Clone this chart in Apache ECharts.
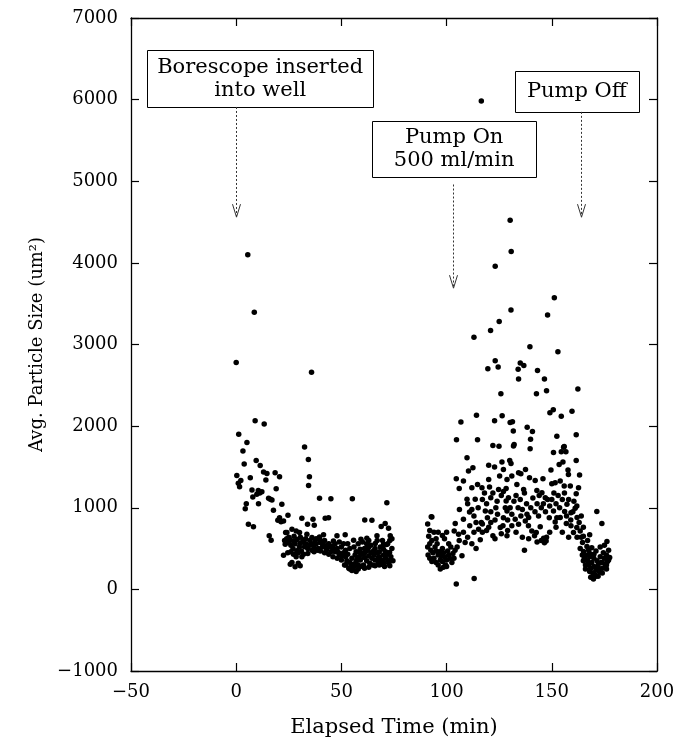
<!DOCTYPE html>
<html>
<head>
<meta charset="utf-8">
<script src="https://cdn.jsdelivr.net/npm/echarts@6/dist/echarts.min.js"></script>
<style>
html,body{margin:0;padding:0;background:#fff;}
#chart{width:678px;height:743px;}
</style>
</head>
<body>
<div id="chart"></div>
<script>
// ---- Data (elapsed time in min, avg particle size in um^2) ----
const borescopePhase = [
[0,2780],[5.5,4100],[8.6,3395],[35.8,2660],
[9,2067],[13.3,2027],[1.2,1900],[5.1,1800],[32.5,1745],
[3.2,1695],[9.5,1579],[11.4,1518],[3.8,1535],[34.3,1591],[34.8,1380],[34.4,1274],
[0.3,1396],[2.2,1335],[1.6,1258],[1.0,1300],[6.7,1368],[13,1437],[14.6,1420],[14.1,1339],[18.5,1428],[20.6,1380],[19,1233],
[7.5,1217],[9.8,1164],[12.2,1196],[11.2,1180],[10.5,1210],[7.9,1132],[10.6,1050],[15.4,1115],[17,1095],[16.2,1105],[17.7,968],[21.7,1042],[4.8,1050],[4.3,989],
[39.6,1115],[45,1111],[55.2,1111],[71.6,1062],
[5.8,797],[8.2,766],[19.8,846],[20.6,879],[21.3,830],[24.6,907],[22.5,839],[31.2,871],[36.5,858],[33.9,797],[37.1,785],[42.3,871],[43.9,879],[61.1,851],[64.5,846],[68.9,769],[70.8,806],[72.4,749],
[15.7,656],[16.6,602],[24.1,696],[26.5,736],[28.5,716],[30.1,696],[23.5,696],
[23.3,553],[24.9,574],[27.2,594],[30.4,562],[32.5,521],[22.5,419],[27.2,431],[28.8,472],[31.2,399],[25.7,309],[28,277],[30.4,289],[26.5,330],[29.5,320],
[33.6,675],[36,635],[37.5,602],[39.6,643],[41.5,668],[39.9,574],[42.3,533],[43.9,553],[46.2,594],[47.9,656],[51.8,668],[46.2,480],[48.6,452],[50.2,411],[52.6,350],[54.2,269],[55.8,309],[57.4,370],[55.8,602],[59.3,614],[62.1,626],[66.9,656],[58.9,492],[61.3,452],[62.9,513],[65.3,472],[66.1,562],[67.6,391],[70,492],[69.3,309],[72.4,350],[72.9,452],[73.2,656],
[24,620],[25.5,610],[26,540],[27,500],[28,560],[29,610],[30,520],[31,470],[32,600],[33,560],[34,500],[35,540],[36,480],[37,520],[38,560],[39,500],[40,470],[41,520],[42,450],[43,490],[44,430],[45,520],[46,400],[47,460],[48,380],[49,420],[50,360],[51,450],[51.5,300],[52,400],[53,430],[53.5,260],[54,330],[55,380],[55,230],[56,280],[56.5,420],[57,340],[58,300],[58.5,400],[59,360],[60,440],[60.5,300],[61,390],[62,350],[62.5,480],[63,410],[63.5,320],[64,450],[64.5,380],[65,300],[65.5,420],[66,360],[67,450],[67.5,330],[68,400],[68.5,520],[69,360],[69.5,600],[70,420],[70.5,280],[71,380],[71.5,550],[72,430],[72.5,320],[73,600],[73.5,400],[74,500],[74.5,350],
[23,600],[24.5,450],[25,640],[26,460],[27.5,650],[28.5,400],[29.5,450],[30.5,640],[31.5,580],[32,430],[33,620],[34,440],[35,600],[36,560],[37,460],[38,620],[38.5,480],[40,600],[41,560],[42,600],[43,520],[44,560],[45,460],[46,530],[47,560],[48,500],[49,580],[50,520],[51,560],[52,480],[53,560],[54,500],[56,520],[57,460],[58,560],[59,450],[60,580],[61,500],[62,560],[63,600],[64,540],[66,500],[67,600],[68,460],[70,550],[71,460],[72,560],[74,620],
[52,300],[54,250],[55.5,260],[57,220],[58,250],[59,280],[61,260],[63,270],[66,290],[68,300],[70,330],[73,290]
];

const pumpOnPhase = [
[92.7,891],[91,800],[92,720],[91.5,650],[93,600],[92,560],[91,520],[92.5,480],[93.5,450],[91.2,420],[92,380],[93,340],[94,700],[95,620],[95.5,560],[94.5,520],[95,470],[96,420],[94,380],[95,330],[96,300],[97,360],[97.5,410],[96.5,460],[98,500],[98.5,450],[99,400],[98,340],[99.5,300],[100,360],[101,420],[100.5,470],[102,520],[101.5,380],[100,280],[97,250],[98.5,270],[103,440],[103.5,380],[102.5,330],[104,480],[101,560],[99,620],[98,660],[96,700],[100,700],
[103.6,716],[105.7,675],[104.1,806],[108,858],[106.1,980],[110.9,949],[108.8,574],[107.3,411],[104.6,65],[113.1,134],[116,607],[115.2,736],[116.5,818],[119.4,879],[122,656],[125.5,757],[128.7,656],[118.4,961],[121,1123],[123.4,1001],[124.2,919],[127,879],[127.9,1001],[128.3,1083],[129.4,1123],[128.7,961],[130.2,1001],[126.8,778],[132.6,858],[134.2,797],[135.3,900],[137.4,839],[138.9,778],[138.2,919],[137,480],[140.5,716],[141.8,656],[142.6,696],[144.5,766],[143.7,900],[146.1,626],[147.3,594],[145,600],[146.5,570],[147.5,640],[148.8,879],[150.8,961],[152.4,879],[151.6,826],[153.7,1001],[156.1,953],[157.2,1042],[159.1,940],[161.1,993],[161.9,1022],[156.9,806],[159.1,778],[160.3,696],[161.9,757],[163.5,716],
[106.8,2051],[114.2,2133],[126.4,2128],[122.8,2067],[130.2,2043],[131.3,2055],[131.7,1941],[138.3,1987],[140.8,1933],[152.4,1877],[161.6,1893],[104.7,1832],[114.7,1832],[122,1762],[124.9,1754],[131.8,1758],[139.9,1840],[155.9,1750],[132.1,1774],[139.7,1722],[109.7,1612],[150.8,1677],[154.5,1685],[156.7,1685],[155.6,1742],[161.6,1579],
[104.6,1355],[108,1327],[112.5,1490],[110.4,1449],[120,1522],[122.8,1498],[126.3,1559],[130,1579],[130.6,1542],[127,1469],[134.2,1428],[137.5,1469],[135.3,1416],[139.4,1368],[145.8,1355],[142.1,1335],[149.6,1461],[153.5,1530],[155.3,1559],[157.7,1461],[157.9,1408],[163.2,1400],
[106,1237],[112,1245],[114.7,1286],[116.8,1245],[120,1347],[120.4,1254],[125.2,1388],[124.7,1225],[128.7,1347],[128.3,1237],[131,1388],[133.4,1286],[136.6,1225],[142.9,1212],[145.3,1184],[146.9,1123],[150,1294],[151.6,1306],[154,1327],[155.9,1266],[158.8,1266],[162.7,1245],[161.6,1172],[109.7,1103],[113.6,1103],
[130.7,4139],[123.1,3960],[151.2,3574],[130.6,3423],[148,3362],[125,3281],[120.9,3171],[113,3089],[139.6,2971],[152.9,2910],[123.1,2800],[119.6,2702],[124.5,2723],[135,2772],[136.7,2744],[134,2698],[143.2,2682],[134.2,2576],[146.5,2576],[125.8,2397],[142.7,2397],[147.5,2434],[162.4,2454],[149.1,2165],[150.7,2202],[159.6,2182],[154.5,2121],
[116.5,5983],[130.2,4521],[93,888],
[110,1050],[112,980],[113,900],[114,820],[115,1000],[117,1100],[118,1180],[119,1050],[121,950],[122,1180],[123,850],[124,1080],[126,1150],[127,1200],[129,850],[131,920],[132,1080],[133,1150],[134,1000],[135,1100],[136,980],[137,1180],[138,1050],[139,880],[140,1000],[141,1120],[142,950],[143,1050],[144,1150],[145,1000],[146,1050],[147,950],[148,1100],[149,1020],[150,1100],[151,1180],[152,1050],[153,1150],[154,880],[155,1100],[156,1180],[157,900],[158,1100],[159,850],[160,950],[160.5,1080],[162,880],[163,820],
[111,780],[113,700],[117,700],[120,760],[123,620],[126,680],[129,720],[131,780],[133,700],[136,640],[139,620],[143,580],[149,700],[152,760],[155,700],[158,640],[162,640],
[105,520],[106,600],[108,700],[110,640],[112,560],[114,500],[117,800],[119,720],[121,820]
];

const pumpOffPhase = [
[164,900],[165,760],[165,650],[167,600],[168,668],[164.6,574],[165.1,464],[166.7,525],[166,420],[165.5,380],[167,350],[167.5,300],[168,400],[168.5,260],[169,330],[169.5,200],[169.8,126],[170,280],[170.5,180],[171,240],[171.5,350],[172,300],[172.5,220],[173,400],[173.5,330],[174,260],[174.5,450],[175,380],[175.5,300],[176,420],[176.5,340],[177,480],[177.5,390],[176,250],[174,200],[172,160],[168,220],[166,300],[170,430],[171,470],[173,520],[175,540],[167.5,480],[169,510],[171.4,953],[173.8,806],[176.2,586],[164,640],[163.5,500],[164.5,420],[165,350],[166,250],[168.5,150],[170,380],[172,260],[174,330],[176,300],[177,360],[168,440],[170,200],[171,160]
];

const xTickValues = [-50, 0, 50, 100, 150, 200];
const yTickValues = [-1000, 0, 1000, 2000, 3000, 4000, 5000, 6000, 7000];

const annotations = [
  { lines: ['Borescope inserted', 'into well'], box: [-42.3, 6606, 65.1, 5910], arrow: [0, 5910, 4560] },
  { lines: ['Pump On', '500 ml/min'], box: [64.6, 5740, 142.6, 5055], arrow: [103.1, 4960, 3690] },
  { lines: ['Pump Off'], box: [132.4, 6350, 191.4, 5850], arrow: [164, 5850, 4560] }
];

const FONT = 'DejaVu Serif';
const chart = echarts.init(document.getElementById('chart'), null, { renderer: 'canvas' });

const axisCommon = {
  type: 'value',
  axisLine: { show: true, onZero: false, lineStyle: { color: '#000', width: 1.3 } },
  axisTick: { show: true, inside: true, length: 8, lineStyle: { color: '#000', width: 1.2 } },
  splitLine: { show: false }
};
const fmt = v => String(v).replace('-', '\u2212');

const scatterStyle = { color: '#000', opacity: 1 };
const option = {
  animation: false,
  backgroundColor: '#fff',
  grid: { left: 131, top: 18, right: 21, bottom: 70, containLabel: false },
  xAxis: [
    Object.assign({}, axisCommon, {
      position: 'bottom', min: xTickValues[0], max: xTickValues[xTickValues.length - 1], interval: 50,
      axisLabel: { margin: 12, fontFamily: FONT, fontSize: 18, color: '#000', formatter: fmt },
      name: 'Elapsed Time (min)', nameLocation: 'middle', nameGap: 46,
      nameTextStyle: { fontFamily: FONT, fontSize: 21, color: '#000' }
    }),
    Object.assign({}, axisCommon, {
      position: 'top', min: xTickValues[0], max: xTickValues[xTickValues.length - 1], interval: 50,
      axisLabel: { show: false }
    })
  ],
  yAxis: [
    Object.assign({}, axisCommon, {
      position: 'left', min: yTickValues[0], max: yTickValues[yTickValues.length - 1], interval: 1000,
      axisLabel: { margin: 13, fontFamily: FONT, fontSize: 18, color: '#000', formatter: fmt },
      name: 'Avg. Particle Size (um\u00B2)', nameLocation: 'middle', nameGap: 74,
      nameTextStyle: { fontFamily: FONT, fontSize: 18, color: '#000' }
    }),
    Object.assign({}, axisCommon, {
      position: 'right', min: yTickValues[0], max: yTickValues[yTickValues.length - 1], interval: 1000,
      axisLabel: { show: false }
    })
  ],
  series: [
    { name: 'Borescope inserted', type: 'scatter', data: borescopePhase, symbolSize: 5.5, itemStyle: scatterStyle },
    { name: 'Pump on', type: 'scatter', data: pumpOnPhase, symbolSize: 5.5, itemStyle: scatterStyle },
    { name: 'Pump off', type: 'scatter', data: pumpOffPhase, symbolSize: 5.5, itemStyle: scatterStyle }
  ]
};
chart.setOption(option);

function px(pt) { return chart.convertToPixel({ xAxisIndex: 0, yAxisIndex: 0 }, pt); }
const graphics = [];
annotations.forEach(a => {
  const p1 = px([a.box[0], a.box[1]]);
  const p2 = px([a.box[2], a.box[3]]);
  graphics.push({
    type: 'rect', z: 100,
    shape: { x: Math.round(p1[0]) + 0.5, y: Math.round(p1[1]) + 0.5, width: Math.round(p2[0] - p1[0]), height: Math.round(p2[1] - p1[1]) },
    style: { fill: '#fff', stroke: '#000', lineWidth: 1 }
  });
  const cx = (p1[0] + p2[0]) / 2, cy = (p1[1] + p2[1]) / 2;
  graphics.push({
    type: 'text', z: 101, x: cx, y: cy,
    style: {
      text: a.lines.join('\n'), fontFamily: FONT, fontSize: 21, fill: '#000',
      align: 'center', verticalAlign: 'middle', textAlign: 'center', textVerticalAlign: 'middle', lineHeight: 23
    }
  });
  const s = px([a.arrow[0], a.arrow[1]]);
  const t = px([a.arrow[0], a.arrow[2]]);
  const x = Math.round(s[0]) + 0.5;
  graphics.push({
    type: 'line', z: 100,
    shape: { x1: x, y1: s[1], x2: x, y2: t[1] },
    style: { stroke: '#333', lineWidth: 1, lineDash: [2, 2] }
  });
  graphics.push({
    type: 'polyline', z: 100,
    shape: { points: [[x - 4, t[1] - 13], [x, t[1]], [x + 4, t[1] - 13]] },
    style: { stroke: '#333', lineWidth: 1, fill: null }
  });
});
chart.setOption({ graphic: graphics });
</script>
</body>
</html>
